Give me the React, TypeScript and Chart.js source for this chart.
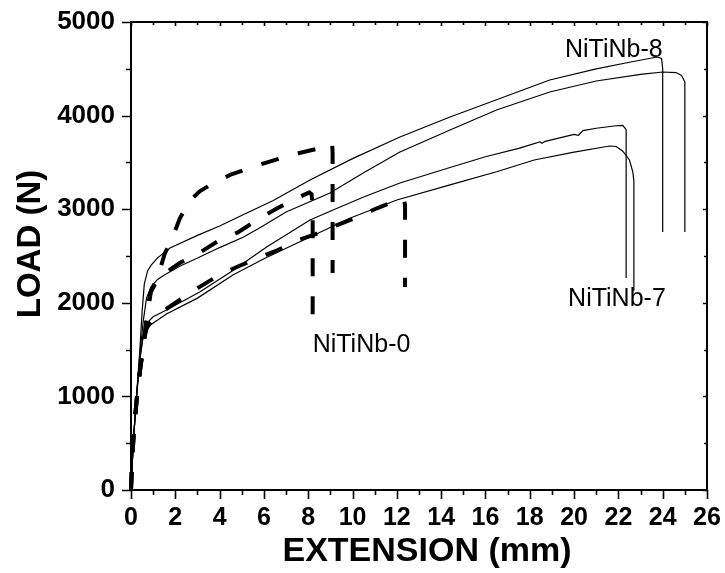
import React, { useEffect, useRef } from 'react';
import { Chart, registerables } from 'chart.js';

Chart.register(...registerables);

// ---- axis ranges / ticks ----
const xMin = 0;
const xMax = 26;
const xMajorStep = 2;
const xMinorStep = 1;
const yMin = 0;
const yMax = 5000;
const yMajorStep = 1000;
const yMinorStep = 500;

const xTitle = 'EXTENSION (mm)';
const yTitle = 'LOAD (N)';

// ---- series: [extension (mm), load (N)] ----
// NiTiNb-8 (upper solid)
const niTiNb8A: [number, number][] = [
  [0, 0], [0.1, 500], [0.25, 1000], [0.4, 1500], [0.5, 1900], [0.6, 2200], [0.75, 2340], [0.9, 2400],
  [1.2, 2480], [1.76, 2585], [3, 2720], [4, 2820], [5.06, 2940], [6.4, 3090], [8.08, 3312], [10, 3540],
  [12.14, 3771], [14.4, 3985], [16.5, 4170], [18.9, 4380], [21, 4500], [22.5, 4570], [23.75, 4626],
  [23.95, 4610], [24.0, 4500], [24.0, 2756],
];
// NiTiNb-8 (lower solid)
const niTiNb8B: [number, number][] = [
  [0, 0], [0.1, 500], [0.25, 1000], [0.4, 1450], [0.55, 1800], [0.7, 2050], [0.9, 2170], [1.2, 2250],
  [1.45, 2290], [2.2, 2390], [3.1, 2489], [4, 2590], [5.06, 2700], [5.8, 2800], [7, 2970], [8.98, 3173],
  [10.5, 3390], [12.14, 3611], [14.4, 3846], [16.5, 4060], [18.9, 4252], [21, 4370], [23, 4440],
  [24, 4466], [24.6, 4460], [24.85, 4430], [25.0, 4360], [25.0, 2756],
];
// NiTiNb-7 (upper solid, wavy)
const niTiNb7A: [number, number][] = [
  [0, 0], [0.1, 500], [0.25, 1000], [0.4, 1400], [0.55, 1650], [0.71, 1780], [1.0, 1850], [1.6, 1923],
  [3.1, 2115], [4.5, 2330], [6.14, 2600], [8.08, 2885], [9.12, 2991], [10.5, 3130], [12.14, 3280],
  [14.4, 3445], [16, 3560], [17.5, 3650], [18.45, 3720], [18.55, 3705], [18.7, 3725], [20.0, 3800],
  [20.2, 3790], [20.4, 3840], [21.0, 3865], [21.8, 3889], [22.2, 3895], [22.35, 3850], [22.35, 2265],
];
// NiTiNb-7 (lower solid)
const niTiNb7B: [number, number][] = [
  [0, 0], [0.1, 500], [0.25, 1000], [0.4, 1400], [0.55, 1640], [0.86, 1760], [1.6, 1880], [3, 2050],
  [4.6, 2297], [6, 2470], [7.6, 2650], [9.9, 2906], [12, 3098], [14.4, 3260], [16.5, 3400], [18.2, 3526],
  [20, 3610], [21.6, 3675], [21.9, 3670], [22.2, 3620], [22.5, 3526], [22.65, 3400], [22.7, 3300],
  [22.7, 2130],
];
// NiTiNb-0 (dashed, three specimens)
const niTiNb0A: [number, number][] = [
  [0, 0], [0.05, 300], [0.12, 600], [0.25, 950], [0.42, 1300], [0.6, 1620], [0.75, 1900], [0.9, 2120],
  [1.2, 2270], [1.53, 2530], [1.85, 2680], [2.2, 2900], [2.66, 3090], [3.1, 3190], [3.57, 3258],
  [4.5, 3370], [5.8, 3475], [6.7, 3540], [7.6, 3600], [8.5, 3650], [9.0, 3690], [9.08, 3700],
  [9.1, 3600], [9.1, 2318],
];
const niTiNb0B: [number, number][] = [
  [0, 0], [0.05, 300], [0.12, 600], [0.25, 950], [0.42, 1300], [0.6, 1620], [0.74, 1900], [0.86, 2100],
  [1.17, 2240], [1.6, 2330], [2.2, 2425], [3.1, 2535], [4.0, 2670], [4.8, 2750], [5.8, 2900],
  [6.6, 3010], [7.6, 3130], [8.05, 3180], [8.15, 3160], [8.2, 3050], [8.2, 1870],
];
const niTiNb0C: [number, number][] = [
  [0, 0], [0.05, 300], [0.12, 600], [0.25, 950], [0.42, 1300], [0.6, 1620], [0.72, 1740], [1.0, 1820],
  [1.5, 1920], [2.2, 2030], [3.1, 2170], [4.0, 2300], [4.8, 2385], [5.8, 2485], [6.6, 2560],
  [7.5, 2665], [8.3, 2730], [9.3, 2830], [10.1, 2905], [11.1, 3010], [11.8, 3075], [12.3, 3110],
  [12.37, 3050], [12.37, 2169],
];

// ---- curve labels: [text, x, y(baseline), align] ----
const curveLabels: [string, number, number, CanvasTextAlign][] = [
  ['NiTiNb-8', 24.0, 4626, 'right'],
  ['NiTiNb-7', 19.73, 1966, 'left'],
  ['NiTiNb-0', 8.2, 1474, 'left'],
];

const FONT = '"Liberation Sans", Arial, Helvetica, sans-serif';

const toXY = (pts: [number, number][]) => pts.map(([x, y]) => ({ x, y }));

const solid = (pts: [number, number][]) => ({
  data: toXY(pts),
  showLine: true,
  borderColor: '#000',
  borderWidth: 1.2,
  pointRadius: 0,
  tension: 0,
  clip: false as const,
});
const dashed = (pts: [number, number][]) => ({
  data: toXY(pts),
  showLine: true,
  borderColor: '#000',
  borderWidth: 4,
  borderDash: [18, 20],
  pointRadius: 0,
  tension: 0,
  clip: false as const,
});

const framePlugin = {
  id: 'frameAndLabels',
  afterDatasetsDraw(chart: any) {
    const { ctx, chartArea } = chart;
    const { left, right, top, bottom } = chartArea;
    const xs = chart.scales.x;
    const ys = chart.scales.y;
    ctx.save();
    ctx.strokeStyle = '#000';
    ctx.lineWidth = 2;
    ctx.strokeRect(left, top, right - left, bottom - top);
    ctx.lineWidth = 1.6;
    ctx.beginPath();
    for (let v = xMin; v <= xMax + 1e-9; v += xMinorStep) {
      const px = Math.round(xs.getPixelForValue(v)) + 0.5;
      const major = Math.abs(v / xMajorStep - Math.round(v / xMajorStep)) < 1e-9;
      ctx.moveTo(px, bottom);
      ctx.lineTo(px, bottom + (major ? 9 : 5));
      ctx.moveTo(px, top);
      ctx.lineTo(px, top + (major ? 4 : 3));
    }
    for (let v = yMin; v <= yMax + 1e-9; v += yMinorStep) {
      const py = Math.round(ys.getPixelForValue(v)) + 0.5;
      const major = Math.abs(v / yMajorStep - Math.round(v / yMajorStep)) < 1e-9;
      ctx.moveTo(left, py);
      ctx.lineTo(left - (major ? 9 : 5), py);
      ctx.moveTo(right, py);
      ctx.lineTo(right - (major ? 4 : 3), py);
    }
    ctx.stroke();

    // curve labels
    ctx.fillStyle = '#000';
    ctx.font = `25px ${FONT}`;
    ctx.textBaseline = 'alphabetic';
    for (const [text, x, y, align] of curveLabels) {
      ctx.textAlign = align;
      ctx.fillText(text, xs.getPixelForValue(x), ys.getPixelForValue(y));
    }

    // axis titles
    ctx.font = `bold 34px ${FONT}`;
    ctx.textAlign = 'center';
    ctx.textBaseline = 'alphabetic';
    ctx.fillText(xTitle, (left + right) / 2 + 8, 561);
    ctx.save();
    ctx.font = `bold 33px ${FONT}`;
    ctx.translate(40, (top + bottom) / 2 - 12);
    ctx.rotate(-Math.PI / 2);
    ctx.fillText(yTitle, 0, 0);
    ctx.restore();
    ctx.restore();
  },
};

export default function App() {
  const ref = useRef<HTMLCanvasElement | null>(null);
  useEffect(() => {
    if (!ref.current) return;
    const chart = new Chart(ref.current, {
      type: 'scatter',
      data: {
        datasets: [
          solid(niTiNb8A),
          solid(niTiNb8B),
          solid(niTiNb7A),
          solid(niTiNb7B),
          dashed(niTiNb0A),
          dashed(niTiNb0B),
          dashed(niTiNb0C),
        ] as any,
      },
      options: {
        animation: false,
        responsive: false,
        maintainAspectRatio: false,
        devicePixelRatio: 1,
        layout: { padding: { left: 0, right: 18, top: 22, bottom: 0 } },
        plugins: { legend: { display: false }, tooltip: { enabled: false } },
        scales: {
          x: {
            type: 'linear',
            min: xMin,
            max: xMax,
            ticks: {
              stepSize: xMajorStep,
              color: '#000',
              padding: 13,
              font: { family: FONT, size: 25, weight: 'bold' },
              callback: (v: any) => String(v),
            },
            grid: { display: false, drawTicks: false },
            border: { display: false },
            afterFit: (s: any) => {
              s.height = 83;
              s.paddingLeft = 0;
              s.paddingRight = 0;
            },
          },
          y: {
            type: 'linear',
            min: yMin,
            max: yMax,
            ticks: {
              stepSize: yMajorStep,
              color: '#000',
              padding: 16,
              font: { family: FONT, size: 26, weight: 'bold' },
              callback: (v: any) => String(v),
            },
            grid: { display: false, drawTicks: false },
            border: { display: false },
            afterFit: (s: any) => {
              s.width = 131;
              s.paddingTop = 0;
              s.paddingBottom = 0;
            },
          },
        },
      } as any,
      plugins: [framePlugin],
    });
    return () => chart.destroy();
  }, []);
  return (
    <div style={{ position: 'fixed', left: 0, top: 0, width: 725, height: 573, background: '#fff' }}>
      <canvas ref={ref} width={725} height={573} style={{ display: 'block' }} />
    </div>
  );
}
